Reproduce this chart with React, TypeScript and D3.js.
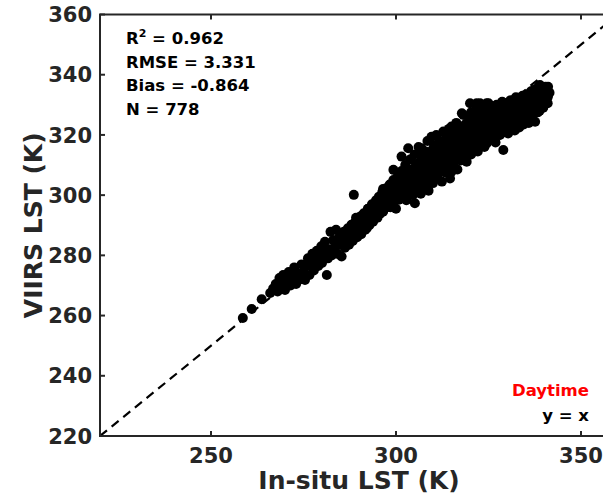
import React from "react";
import * as d3 from "d3";

// Data: [in-situ LST, VIIRS LST] (K)
// Edge / isolated points
const edgeSamples: [number, number][] = [
  [258.6, 259.2], [261.0, 262.2], [263.7, 265.4],
  [266.0, 267.5], [266.8, 269.0], [267.5, 270.5], [268.0, 268.0], [268.5, 272.5], [269.0, 270.0],
  [269.5, 273.5], [270.0, 268.5], [270.5, 271.5], [271.0, 274.5], [271.5, 270.0], [272.0, 273.0],
  [272.5, 276.0], [273.0, 270.5], [273.5, 274.0], [274.0, 272.0], [274.5, 277.0], [275.0, 274.5],
  [275.4, 271.8], [275.8, 276.5], [276.2, 279.0], [276.6, 273.5], [277.0, 277.5], [277.4, 280.5],
  [277.8, 275.0], [278.2, 278.5], [278.6, 281.5], [279.0, 276.5], [279.4, 279.5], [279.8, 283.0], [280.0, 277.5],
  [280.4, 280.5], [280.8, 284.5], [281.3, 273.5], [281.6, 279.0], [282.0, 282.0], [282.3, 287.8],
  [282.6, 280.0], [283.0, 285.0], [283.4, 282.5], [283.8, 288.5], [284.2, 280.5], [284.6, 286.0], [285.0, 283.5],
  [285.3, 279.6], [285.5, 284.0], [285.9, 287.8], [286.2, 282.5], [286.6, 285.5], [287.0, 289.0],
  [287.3, 283.5], [287.7, 286.8], [288.0, 290.2], [288.3, 284.8], [288.6, 300.1], [288.8, 288.0],
  [289.2, 292.5], [289.5, 286.0], [290.0, 289.5],
  [290.3, 292.8], [290.6, 287.0], [291.0, 290.5], [291.3, 294.0], [291.7, 288.5], [292.1, 289.0],
  [292.0, 292.0], [292.4, 295.5], [292.8, 290.0], [293.2, 293.5], [293.5, 297.0], [293.8, 291.2],
  [294.2, 294.8], [294.6, 298.3], [295.0, 292.5], [295.0, 296.0],
  [295.4, 299.5], [295.7, 293.8], [296.0, 297.2], [296.3, 301.0], [296.6, 295.0], [297.0, 298.5],
  [297.3, 302.3], [297.6, 296.0], [298.0, 300.0], [298.3, 303.5], [298.6, 297.0], [299.0, 301.3],
  [299.3, 305.0], [299.3, 308.4], [299.6, 298.5], [300.0, 302.5], [300.0, 295.5],
  [300.4, 306.0], [300.7, 299.5], [301.0, 303.8], [301.5, 312.8], [301.5, 308.0], [301.8, 300.8],
  [302.2, 305.0], [302.5, 310.0], [302.8, 298.3], [303.2, 302.5], [303.3, 315.6], [303.5, 307.0],
  [303.8, 311.8], [304.1, 304.0], [304.5, 300.0], [304.8, 308.5], [305.0, 313.5], [305.1, 297.3], [305.3, 305.5],
  [305.6, 302.0], [305.8, 310.5], [306.1, 316.0], [306.4, 307.0], [306.7, 300.5], [306.9, 315.6],
  [307.0, 312.5], [307.3, 303.5], [307.6, 309.0], [308.0, 314.5], [308.2, 305.5], [308.5, 318.0],
  [308.8, 301.5], [309.0, 311.0], [309.4, 307.5], [309.6, 319.4], [309.8, 313.5], [310.0, 304.0],
  [310.3, 316.5], [310.6, 309.5], [310.9, 320.0], [311.2, 306.0], [311.5, 313.0], [311.8, 318.0],
  [312.1, 310.5], [312.4, 304.5], [312.8, 321.1], [313.0, 315.5], [313.3, 307.5], [313.6, 319.0],
  [314.0, 312.0], [314.3, 322.0], [314.6, 305.5], [315.0, 322.8], [315.0, 316.5], [315.0, 307.8],
  [315.4, 310.0], [315.7, 319.5], [316.0, 313.5], [316.3, 324.0], [316.6, 308.5], [316.9, 317.0],
  [317.2, 321.5], [317.5, 311.5], [317.8, 327.2], [318.0, 315.0], [318.2, 326.6], [318.5, 319.0],
  [318.8, 323.5], [319.1, 311.1], [319.4, 316.5], [319.7, 325.5], [320.0, 320.5], [320.0, 330.5],
  [320.3, 313.5], [320.6, 323.0], [320.9, 327.5], [321.2, 317.0], [321.5, 320.5], [321.8, 330.5],
  [322.1, 314.5], [322.4, 325.0], [322.7, 330.5], [323.0, 318.5], [323.3, 322.0], [323.6, 328.0],
  [323.9, 316.0], [324.2, 325.5], [324.5, 317.2], [324.5, 330.5], [324.8, 321.5], [325.0, 330.5], [325.0, 327.0],
  [325.4, 319.0], [325.7, 324.0], [326.0, 329.5], [326.3, 321.0], [326.6, 326.5], [326.9, 317.5],
  [327.2, 330.0], [327.5, 323.0], [327.8, 328.0], [328.1, 320.0], [328.4, 325.5], [328.7, 331.0],
  [329.0, 315.0], [329.0, 322.5], [329.3, 327.5], [329.6, 330.5], [330.0, 324.5],
  [330.3, 320.5], [330.6, 328.5], [330.9, 331.5], [331.2, 323.5], [331.5, 326.5], [331.8, 330.0],
  [332.1, 321.5], [332.4, 332.5], [332.7, 325.0], [333.0, 328.5], [333.3, 322.5], [333.6, 331.5],
  [333.9, 326.5], [334.2, 333.0], [334.5, 323.5], [334.8, 329.5], [335.0, 332.0],
  [335.3, 326.5], [335.6, 333.5], [335.9, 324.0], [336.2, 330.0], [336.5, 334.5], [336.8, 327.5],
  [337.1, 331.5], [337.4, 335.0], [337.6, 324.4], [337.9, 329.0], [338.2, 333.0], [338.5, 336.0],
  [338.8, 328.0], [338.9, 336.6], [339.2, 331.5], [339.5, 334.5], [339.8, 330.0], [340.1, 333.0],
  [340.4, 336.0], [340.7, 335.5], [341.0, 332.5], [341.1, 336.0], [341.5, 334.0],
];

// Dense core of the cloud (overlapping points)
const coreSamples: [number, number][] = [
  [286.5, 284.0], [286.5, 286.5],
  [288.5, 285.5], [288.5, 288.0], [288.5, 290.5],
  [290.5, 288.0], [290.5, 290.5], [290.5, 293.0],
  [292.5, 290.5], [292.5, 293.0], [292.5, 295.5],
  [294.5, 292.5], [294.5, 295.0], [294.5, 297.5],
  [296.5, 294.5], [296.5, 297.0], [296.5, 299.5], [296.5, 302.0],
  [298.5, 296.0], [298.5, 298.5], [298.5, 301.0], [298.5, 303.5],
  [300.8, 298.5], [300.8, 301.0], [300.8, 303.5],
  [302.3, 300.0], [302.3, 302.5], [302.3, 305.0], [302.3, 307.5],
  [303.8, 301.0], [303.8, 303.5], [303.8, 306.0], [303.8, 308.5],
  [305.3, 302.0], [305.3, 304.5], [305.3, 307.0], [305.3, 309.5],
  [306.8, 303.0], [306.8, 305.5], [306.8, 308.0], [306.8, 310.5], [306.8, 313.0],
  [308.3, 304.0], [308.3, 306.5], [308.3, 309.0], [308.3, 311.5], [308.3, 314.0],
  [309.8, 305.0], [309.8, 307.5], [309.8, 310.0], [309.8, 312.5], [309.8, 315.0],
  [311.3, 307.0], [311.3, 309.5], [311.3, 312.0], [311.3, 314.5], [311.3, 317.0],
  [312.8, 308.0], [312.8, 310.5], [312.8, 313.0], [312.8, 315.5], [312.8, 318.0],
  [314.3, 309.5], [314.3, 312.0], [314.3, 314.5], [314.3, 317.0], [314.3, 319.5],
  [315.8, 311.0], [315.8, 313.5], [315.8, 316.0], [315.8, 318.5], [315.8, 321.0],
  [317.3, 312.5], [317.3, 315.0], [317.3, 317.5], [317.3, 320.0], [317.3, 322.5],
  [318.8, 313.5], [318.8, 316.0], [318.8, 318.5], [318.8, 321.0], [318.8, 323.5],
  [320.3, 315.0], [320.3, 317.5], [320.3, 320.0], [320.3, 322.5], [320.3, 325.0], [320.3, 327.5],
  [321.8, 316.0], [321.8, 318.5], [321.8, 321.0], [321.8, 323.5], [321.8, 326.0], [321.8, 328.5],
  [323.3, 317.0], [323.3, 319.5], [323.3, 322.0], [323.3, 324.5], [323.3, 327.0], [323.3, 329.5],
  [324.8, 318.0], [324.8, 320.5], [324.8, 323.0], [324.8, 325.5], [324.8, 328.0],
  [326.3, 319.0], [326.3, 321.5], [326.3, 324.0], [326.3, 326.5], [326.3, 329.0],
  [327.8, 320.0], [327.8, 322.5], [327.8, 325.0], [327.8, 327.5], [327.8, 330.0],
  [329.3, 321.0], [329.3, 323.5], [329.3, 326.0], [329.3, 328.5],
  [330.8, 322.0], [330.8, 324.5], [330.8, 327.0], [330.8, 329.5],
  [332.3, 323.0], [332.3, 325.5], [332.3, 328.0], [332.3, 330.5],
  [333.8, 324.0], [333.8, 326.5], [333.8, 329.0], [333.8, 331.5],
  [335.3, 325.0], [335.3, 327.5], [335.3, 330.0], [335.3, 332.5],
  [336.8, 326.0], [336.8, 328.5], [336.8, 331.0], [336.8, 333.5],
  [338.3, 327.5], [338.3, 330.0], [338.3, 332.5], [338.3, 335.0],
  [339.8, 329.0], [339.8, 331.5], [339.8, 334.0],
  [341.0, 330.5], [341.0, 333.0],
];

const xTicks = [250, 300, 350];
const yTicks = [220, 240, 260, 280, 300, 320, 340, 360];
const statsLines = [
  { label: "R", sup: "2", value: " = 0.962" },
  { label: "RMSE", sup: "", value: " = 3.331" },
  { label: "Bias", sup: "", value: " = -0.864" },
  { label: "N", sup: "", value: " = 778" },
];
const xTitle = "In-situ LST (K)";
const yTitle = "VIIRS LST (K)";
const legendTitle = "Daytime";
const legendLine = "y = x";
const domain: [number, number] = [220, 360];

const W = 603;
const H = 497;
const FONT = "'DejaVu Sans', sans-serif";
const AX = "#262626";

export default function App() {
  const x = d3.scaleLinear().domain(domain).range([100, 618]);
  const y = d3.scaleLinear().domain(domain).range([436, 14.5]);
  const [x0, x1] = x.range();
  const [yb, yt] = y.range();
  const line = d3.line<number>().x((v) => x(v)).y((v) => y(v));
  const tl = 5;
  const samples = [...coreSamples, ...edgeSamples];

  return (
    <svg
      width={W}
      height={H}
      style={{ position: "absolute", left: 0, top: 0, background: "#fff" }}
      fontFamily={FONT}
    >
      <defs>
        <clipPath id="plot">
          <rect x={x0} y={yt} width={x1 - x0} height={yb - yt} />
        </clipPath>
      </defs>
      <g clipPath="url(#plot)">
        {samples.map(([a, b], i) => (
          <circle key={i} cx={x(a)} cy={y(b)} r={5} fill="#000" />
        ))}
        <path
          d={line(domain) || ""}
          stroke="#000"
          strokeWidth={2.2}
          strokeDasharray="9,6"
          fill="none"
        />
      </g>
      <rect x={x0} y={yt} width={x1 - x0} height={yb - yt} fill="none" stroke={AX} strokeWidth={2} />
      {xTicks.map((t) => (
        <g key={"x" + t}>
          <line x1={x(t)} x2={x(t)} y1={yb} y2={yb - tl} stroke={AX} strokeWidth={2} />
          <line x1={x(t)} x2={x(t)} y1={yt} y2={yt + tl} stroke={AX} strokeWidth={2} />
          <text x={x(t)} y={463} textAnchor="middle" fontSize={21} fontWeight="bold" fill={AX}>
            {t}
          </text>
        </g>
      ))}
      {yTicks.map((t) => (
        <g key={"y" + t}>
          <line x1={x0} x2={x0 + tl} y1={y(t)} y2={y(t)} stroke={AX} strokeWidth={2} />
          <text x={92} y={y(t) + 7.6} textAnchor="end" fontSize={21} fontWeight="bold" fill={AX}>
            {t}
          </text>
        </g>
      ))}
      <text x={(x0 + x1) / 2} y={489} textAnchor="middle" fontSize={25} fontWeight="bold" fill={AX}>
        {xTitle}
      </text>
      <text
        transform={`translate(41.5,${(yb + yt) / 2}) rotate(-90)`}
        textAnchor="middle"
        fontSize={25}
        fontWeight="bold"
        fill={AX}
      >
        {yTitle}
      </text>
      {statsLines.map((s, i) => (
        <text key={s.label} x={126} y={44 + i * 23.6} fontSize={16.5} fontWeight="bold" fill="#000">
          {s.label}
          {s.sup && (
            <tspan dy={-7} fontSize={11}>
              {s.sup}
            </tspan>
          )}
          <tspan dy={s.sup ? 7 : 0}>{s.value}</tspan>
        </text>
      ))}
      <text x={589} y={396} textAnchor="end" fontSize={16.5} fontWeight="bold" fill="#ff0000">
        {legendTitle}
      </text>
      <text x={589} y={421} textAnchor="end" fontSize={16.5} fontWeight="bold" fill="#000">
        {legendLine}
      </text>
    </svg>
  );
}
